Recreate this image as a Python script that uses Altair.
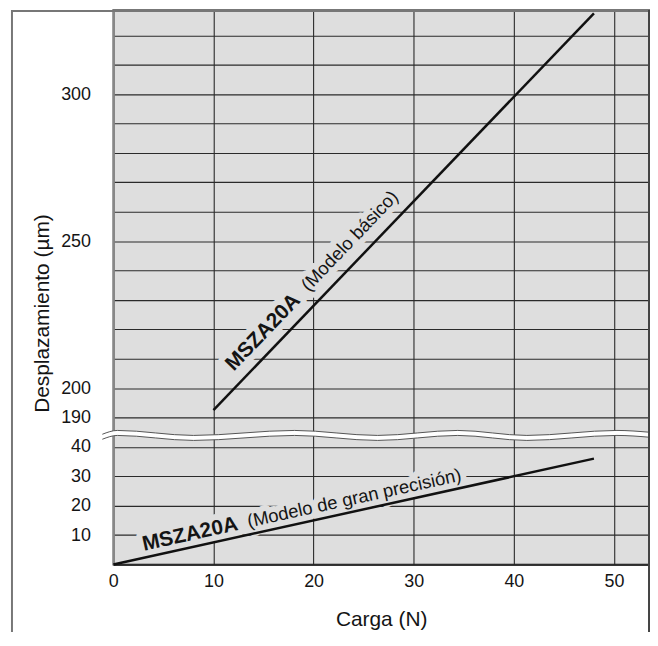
import math
import altair as alt
import pandas as pd

# ---------------- data ----------------
carga_basico = [10, 48]            # N
desp_basico = [192.5, 327.5]       # µm
carga_precision = [0, 48]          # N
desp_precision = [0, 36]           # µm

x_ticks = [0, 10, 20, 30, 40, 50]
y_labels = [10, 20, 30, 40, 190, 200, 250, 300]
y_grid = [0, 10, 20, 30, 40] + list(range(190, 330, 10))

label_bold = "MSZA20A"
label_basico = "(Modelo básico)"
label_precision = "(Modelo de gran precisión)"

# axis break: 40 -> 190 in one grid step
BREAK_LOW, BREAK_HIGH, STEP = 40, 190, 10
SHIFT = BREAK_HIGH - BREAK_LOW - STEP


def tr(v):
    return v - SHIFT if v >= BREAK_HIGH else v


# wavy break marks (hand-read control points, in axis units)
wave_x = [-1.1, 0.4, 8.0, 18.1, 26.4, 34.4, 41.3, 50.3, 53.5]
wave_top = [44.3, 45.6, 43.9, 45.6, 43.9, 45.6, 43.9, 45.6, 45.0]
wave_bot = [42.6, 43.9, 42.2, 43.9, 42.2, 43.9, 42.2, 43.9, 43.3]

# ---------------- layout ----------------
W, H = 539, 558
X_DOM = [0, 53.5]
Y_DOM = [0, 188.65]
kx = W / (X_DOM[1] - X_DOM[0])
ky = H / (Y_DOM[1] - Y_DOM[0])
FONT = "Liberation Sans"
BG = "#dedede"
INK = "#141414"


def screen_angle(x0, y0, x1, y1):
    return math.degrees(math.atan2(-(tr(y1) - tr(y0)) * ky, (x1 - x0) * kx)) % 360


ang_b = screen_angle(carga_basico[0], desp_basico[0], carga_basico[1], desp_basico[1])
ang_p = screen_angle(carga_precision[0], desp_precision[0], carga_precision[1], desp_precision[1])

lines_df = pd.DataFrame({
    "carga": carga_basico + carga_precision,
    "yt": [tr(v) for v in desp_basico + desp_precision],
    "serie": ["basico"] * 2 + ["precision"] * 2,
})

# one row per text piece: which line it sits on, and its text
label_serie = ["basico", "basico", "precision", "precision"]
label_txt = [label_bold, label_basico, label_bold, label_precision]
labels_df = pd.DataFrame({
    "serie": label_serie,
    "carga": [carga_basico[0] if s == "basico" else carga_precision[0] for s in label_serie],
    "yt": [tr(desp_basico[0]) if s == "basico" else tr(desp_precision[0]) for s in label_serie],
    "txt": label_txt,
    "ang": [ang_b if s == "basico" else ang_p for s in label_serie],
})

wave_df = pd.DataFrame({"carga": wave_x, "top": wave_top, "bot": wave_bot})

xs = alt.Scale(domain=X_DOM, nice=False, zero=False)
ys = alt.Scale(domain=Y_DOM, nice=False, zero=False)

shown = [tr(v) for v in y_labels]
label_expr = (
    f"indexof({shown}, datum.value) >= 0 ? "
    f"(datum.value > {BREAK_LOW + STEP / 2} ? datum.value + {SHIFT} : datum.value) : ''"
)

x_axis = alt.Axis(
    values=x_ticks, grid=True, gridColor="#2a2a2a", gridWidth=1.1, ticks=False,
    domain=True, domainColor="#222", domainWidth=1.5,
    labelFont=FONT, labelFontSize=18, labelColor=INK, labelPadding=8,
    labelFlush=False, labelOverlap=False,
    title="Carga (N)", titleFont=FONT, titleFontSize=21, titleFontWeight="normal",
    titleColor=INK, titleBaseline="alphabetic", titleY=61,
)
y_axis = alt.Axis(
    values=[tr(v) for v in y_grid], labelExpr=label_expr,
    grid=True, gridColor="#2a2a2a", gridWidth=1.1, ticks=False,
    domain=True, domainColor="#888", domainWidth=2,
    labelFont=FONT, labelFontSize=18, labelColor=INK, labelPadding=23,
    labelFlush=False, labelOverlap=False,
    title="Desplazamiento (µm)", titleFont=FONT, titleFontSize=21,
    titleFontWeight="normal", titleColor=INK, titleAngle=270,
    titleBaseline="alphabetic", titleAlign="center", titleX=-65, titleY=305,
)


def X(field):
    return alt.X(field, type="quantitative", scale=xs, axis=x_axis)


def Y(field):
    return alt.Y(field, type="quantitative", scale=ys, axis=y_axis)


data_lines = alt.Chart(lines_df).mark_line(color="#111", strokeWidth=2.5).encode(
    x=X("carga"), y=Y("yt"), detail="serie:N")

band = alt.Chart(wave_df).mark_area(color="white", interpolate="monotone").encode(
    x=X("carga"), y=Y("top"), y2="bot:Q")
wave1 = alt.Chart(wave_df).mark_line(color="#555", strokeWidth=1, interpolate="monotone").encode(
    x=X("carga"), y=Y("top"))
wave2 = alt.Chart(wave_df).mark_line(color="#555", strokeWidth=1, interpolate="monotone").encode(
    x=X("carga"), y=Y("bot"))


def text_layers(df, bold, dx, dy, size):
    enc = dict(x=X("carga"), y=Y("yt"), text="txt:N",
               angle=alt.Angle("ang:Q", scale=None))
    common = dict(font=FONT, fontSize=size, fontWeight="bold" if bold else "normal",
                  align="left", baseline="alphabetic", dx=dx, dy=dy)
    halo = alt.Chart(df).mark_text(fill=BG, stroke=BG, strokeWidth=12,
                                   strokeJoin="round", **common).encode(**enc)
    txt = alt.Chart(df).mark_text(fill=INK, **common).encode(**enc)
    return halo, txt


lb = labels_df
h1, t1 = text_layers(lb[(lb.serie == "basico") & (lb.txt == label_bold)], True, 42, -12, 21)
h2, t2 = text_layers(lb[(lb.serie == "basico") & (lb.txt == label_basico)], False, 152, -13, 18.5)
h3, t3 = text_layers(lb[(lb.serie == "precision") & (lb.txt == label_bold)], True, 33, -7, 21)
h4, t4 = text_layers(lb[(lb.serie == "precision") & (lb.txt == label_precision)], False, 141, -7, 18.5)

# outer frame (decoration)
frame_left = alt.Chart().mark_rule(color="#777", strokeWidth=2).encode(
    x=alt.value(-102), y=alt.value(0), y2=alt.value(640))
frame_top = alt.Chart().mark_rule(color="#777", strokeWidth=2).encode(
    x=alt.value(-102), x2=alt.value(W), y=alt.value(1))
frame_right = alt.Chart().mark_rule(color="#444", strokeWidth=2).encode(
    x=alt.value(W), y=alt.value(0), y2=alt.value(640))

chart = alt.layer(
    band, wave1, wave2,
    h1, h2, h3, h4,
    data_lines,
    t1, t2, t3, t4,
    frame_left, frame_top, frame_right,
).properties(
    width=W, height=H,
    autosize=alt.AutoSizeParams(type="none"),
    padding={"left": 106, "top": 0, "right": 1, "bottom": 66},
    background="white",
).configure_view(fill=BG, stroke="#777", strokeWidth=2)

chart.save("out.html", embed_options={"renderer": "svg", "actions": False})
